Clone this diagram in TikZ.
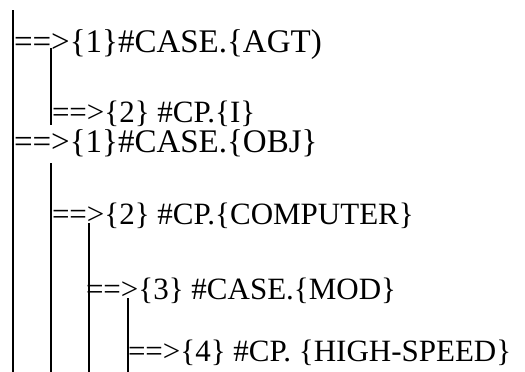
\documentclass[tikz,border=0pt]{standalone}
\usepackage{fontspec}
\setmainfont{Liberation Serif}
\begin{document}
\begin{tikzpicture}[x=1pt,y=-1pt,
  entry/.style={inner sep=0pt, outer sep=0pt, anchor=base west, font=\fontsize{31}{36}\selectfont},
  bigentry/.style={entry, font=\fontsize{33}{38}\selectfont},
  vline/.style={line width=1.6pt}]
\useasboundingbox (0,0) rectangle (525,372);
\node[bigentry] (l1) at (14,52) {==>\{1\}\#CASE.\{AGT)};
\node[entry] (l2) at (52,122) {==>\{2\} \#CP.\{I\}};
\node[bigentry] (l3) at (14,152) {==>\{1\}\#CASE.\{OBJ\}};
\node[entry] (l4) at (52,224) {==>\{2\} \#CP.\{COMPUTER\}};
\node[entry] (l5) at (86,299) {==>\{3\} \#CASE.\{MOD\}};
\node[entry] (l6) at (128,361) {==>\{4\} \#CP. \{HIGH-SPEED\}};
\coordinate (v1t) at (13,10);
\coordinate (v1b) at (13,372);
\coordinate (v2t) at (51,48);
\coordinate (v2b) at (51,125);
\coordinate (v3t) at (51,163);
\coordinate (v3b) at (51,372);
\coordinate (v4t) at (89,223);
\coordinate (v4b) at (89,372);
\coordinate (v5t) at (128,298);
\coordinate (v5b) at (128,372);
\draw[vline] (v1t) -- (v1b);
\draw[vline] (v2t) -- (v2b);
\draw[vline] (v3t) -- (v3b);
\draw[vline] (v4t) -- (v4b);
\draw[vline] (v5t) -- (v5b);
\end{tikzpicture}
\end{document}
